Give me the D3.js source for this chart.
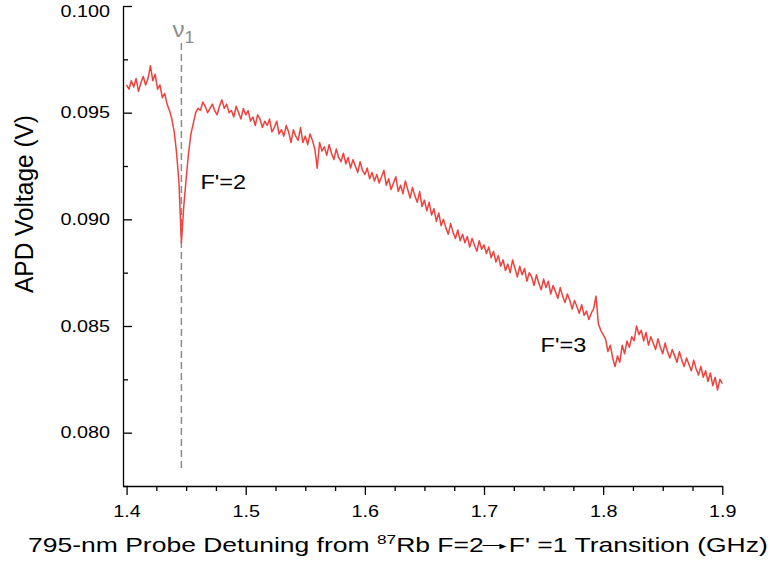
<!DOCTYPE html>
<html>
<head>
<meta charset="utf-8">
<script src="https://cdn.jsdelivr.net/npm/d3@7"></script>
<style>
  body { margin: 0; background: #fff; }
  text { font-family: "Liberation Sans", Arial, sans-serif; }
</style>
</head>
<body>
<div id="chart"></div>
<script>
// probe detuning grid (GHz), sampled every 2 MHz
const detuning = d3.range(0, 251).map(i => +(1.4 + i * 0.002).toFixed(3));

// APD voltage (V)
const apdVoltage = [
  0.0963, 0.0961, 0.0965, 0.0962, 0.0966, 0.0960, 0.0964, 0.0967, 0.0963, 0.0966,
  0.0972, 0.0965, 0.0968, 0.0961, 0.0963, 0.0957, 0.0959, 0.0954, 0.0951, 0.0947,
  0.0941, 0.0931, 0.0917, 0.0889, 0.0906, 0.0919, 0.0931, 0.0940, 0.0945, 0.0950,
  0.0952, 0.0951, 0.0955, 0.0953, 0.0950, 0.0952, 0.0954, 0.0951, 0.0949, 0.0953,
  0.0956, 0.0952, 0.0954, 0.0950, 0.0951, 0.0948, 0.0953, 0.0950, 0.0947, 0.0952,
  0.0949, 0.0951, 0.0946, 0.0948, 0.0944, 0.0949, 0.0947, 0.0943, 0.0946, 0.0944,
  0.0947, 0.0941, 0.0943, 0.0946, 0.0940, 0.0942, 0.0939, 0.0944, 0.0941, 0.0936,
  0.0942, 0.0939, 0.0937, 0.0943, 0.0936, 0.0939, 0.0935, 0.0940, 0.0937, 0.0933,
  0.0924, 0.0936, 0.0932, 0.0934, 0.0930, 0.0935, 0.0931, 0.0928, 0.0933, 0.0929,
  0.0927, 0.0931, 0.0926, 0.0929, 0.0924, 0.0928, 0.0925, 0.0922, 0.0927, 0.0923,
  0.0921, 0.0924, 0.0919, 0.0922, 0.0918, 0.0921, 0.0917, 0.0920, 0.0923, 0.0916,
  0.0919, 0.0914, 0.0917, 0.0920, 0.0913, 0.0916, 0.0912, 0.0918, 0.0914, 0.0910,
  0.0915, 0.0911, 0.0908, 0.0913, 0.0906, 0.0909, 0.0904, 0.0908, 0.0902, 0.0905,
  0.0899, 0.0903, 0.0897, 0.0900, 0.0896, 0.0893, 0.0898, 0.0894, 0.0891, 0.0895,
  0.0890, 0.0893, 0.0889, 0.0892, 0.0887, 0.0891, 0.0888, 0.0885, 0.0890, 0.0886,
  0.0888, 0.0884, 0.0887, 0.0882, 0.0885, 0.0880, 0.0883, 0.0878, 0.0881, 0.0876,
  0.0879, 0.0875, 0.0881, 0.0877, 0.0873, 0.0878, 0.0874, 0.0877, 0.0871, 0.0875,
  0.0873, 0.0869, 0.0874, 0.0870, 0.0867, 0.0872, 0.0868, 0.0871, 0.0865, 0.0869,
  0.0866, 0.0863, 0.0868, 0.0864, 0.0861, 0.0865, 0.0862, 0.0858, 0.0862, 0.0859,
  0.0856, 0.0860, 0.0855, 0.0857, 0.0853, 0.0856, 0.0858, 0.0864, 0.0851, 0.0848,
  0.0846, 0.0844, 0.0838, 0.0841, 0.0835, 0.0831, 0.0836, 0.0833, 0.0841, 0.0837,
  0.0843, 0.0840, 0.0845, 0.0843, 0.0850, 0.0846, 0.0848, 0.0843, 0.0847, 0.0841,
  0.0845, 0.0842, 0.0839, 0.0844, 0.0840, 0.0837, 0.0842, 0.0838, 0.0835, 0.0839,
  0.0836, 0.0833, 0.0838, 0.0834, 0.0831, 0.0835, 0.0832, 0.0829, 0.0834, 0.0830,
  0.0827, 0.0831, 0.0826, 0.0829, 0.0824, 0.0828, 0.0822, 0.0826, 0.0820, 0.0825,
  0.0823
];

const xTicks = [1.4, 1.5, 1.6, 1.7, 1.8, 1.9];
const xMinor = [1.425, 1.45, 1.475, 1.525, 1.55, 1.575, 1.625, 1.65, 1.675, 1.725, 1.75, 1.775, 1.825, 1.85, 1.875];
const yTicks = [0.080, 0.085, 0.090, 0.095, 0.100];
const yMinor = [0.0775, 0.0825, 0.0875, 0.0925, 0.0975];

const nu1 = 1.446;   // resonance marker
const peakLabels = [
  {text: "F'=2", x: 1.462, y: 0.0914},
  {text: "F'=3", x: 1.7475, y: 0.0838}
];

const width = 772, height = 569;
const x = d3.scaleLinear().domain([1.397, 1.9]).range([123, 722.3]);
const y = d3.scaleLinear().domain([0.0775, 0.100]).range([486, 6]);

const svg = d3.select("#chart").append("svg")
    .attr("width", width).attr("height", height);

// stretch text horizontally around its anchor
function stretch(sel, k) {
  sel.each(function() {
    const t = d3.select(this);
    const ax = +t.attr("x") || 0;
    t.attr("transform", `translate(${ax},0) scale(${k},1) translate(${-ax},0)`);
  });
}

// minor ticks
svg.append("g")
    .attr("transform", "translate(0,486)")
    .call(d3.axisBottom(x).tickValues(xMinor).tickSize(5).tickFormat(""))
    .call(g => g.select(".domain").remove());
svg.append("g")
    .attr("transform", "translate(123,0)")
    .call(d3.axisLeft(y).tickValues(yMinor).tickSize(-5).tickFormat(""))
    .call(g => g.select(".domain").remove());

// major axes
const gx = svg.append("g")
    .attr("transform", "translate(0,486)")
    .call(d3.axisBottom(x).tickValues(xTicks).tickSize(9).tickSizeOuter(0).tickPadding(10).tickFormat(d3.format(".1f")));
const gy = svg.append("g")
    .attr("transform", "translate(123,0)")
    .call(d3.axisLeft(y).tickValues(yTicks).tickSize(-9).tickSizeOuter(0).tickPadding(13).tickFormat(d3.format(".3f")));

svg.selectAll(".tick line, .domain").attr("stroke", "#000").attr("stroke-width", 1.3);
[gx, gy].forEach(g => g.selectAll("text").attr("font-size", 16.5).attr("fill", "#000"));
// top label sits just below the frame edge
gy.selectAll(".tick").filter(d => d === 0.100).select("text").attr("dy", "0.62em");
stretch(gx.selectAll("text"), 1.2);
stretch(gy.selectAll("text"), 1.2);

// dashed resonance line
svg.append("line")
    .attr("x1", x(nu1)).attr("x2", x(nu1))
    .attr("y1", 43).attr("y2", 469)
    .attr("stroke", "#8c8c8c").attr("stroke-width", 1.5)
    .attr("stroke-dasharray", "7,4");

const nuLabel = svg.append("text")
    .attr("x", x(nu1) - 9).attr("y", 37)
    .attr("fill", "#8c8c8c").attr("font-size", 22);
nuLabel.append("tspan").text("\u03bd");
nuLabel.append("tspan").attr("font-size", 16).attr("dx", 0).attr("dy", 6).text("1");
stretch(nuLabel, 1.1);

// trace
const line = d3.line()
    .x((d, i) => x(detuning[i]))
    .y(d => y(d));

svg.append("path")
    .datum(apdVoltage)
    .attr("d", line)
    .attr("fill", "none")
    .attr("stroke", "#f2403c")
    .attr("stroke-width", 1.5)
    .attr("stroke-linejoin", "round");

// peak labels
const pl = svg.selectAll(".peak").data(peakLabels).enter().append("text")
    .attr("class", "peak")
    .attr("x", d => x(d.x)).attr("y", d => y(d.y))
    .attr("font-size", 21).attr("fill", "#000")
    .text(d => d.text);
stretch(pl, 1.12);

// x axis title
const xt = svg.append("text")
    .attr("x", 28).attr("y", 552)
    .attr("font-size", 20).attr("fill", "#000");
xt.append("tspan").text("795-nm Probe Detuning from ");
xt.append("tspan").attr("font-size", 13).attr("dy", -8).text("87");
xt.append("tspan").attr("dy", 8).text("Rb F=2");
xt.append("tspan").attr("font-size", 13).attr("dx", -1).attr("dy", -3).text("\u2014");
xt.append("tspan").attr("font-size", 9).attr("dx", -2).attr("dy", 0).text("\u25BA");
xt.append("tspan").attr("dy", 3).text("F' =1 Transition (GHz)");
const xw = xt.node().getBBox().width;
stretch(xt, 740 / xw);

// y axis title
const yt = svg.append("g")
    .attr("transform", "translate(33,204) rotate(-90)")
  .append("text")
    .attr("text-anchor", "middle")
    .attr("font-size", 22).attr("fill", "#000")
    .text("APD Voltage (V)");
const yw = yt.node().getBBox().width;
yt.attr("transform", `scale(${178 / yw},1.17)`);
</script>
</body>
</html>
